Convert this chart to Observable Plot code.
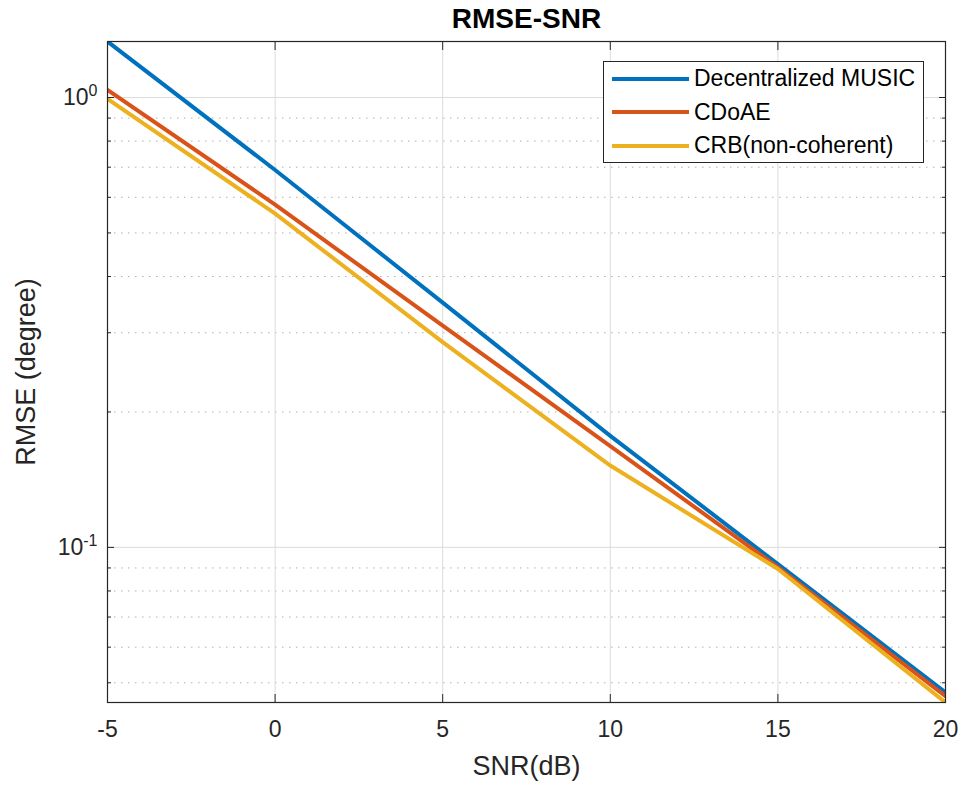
<!DOCTYPE html>
<html><head><meta charset="utf-8">
<script src="https://cdn.jsdelivr.net/npm/d3@7"></script>
<script src="https://cdn.jsdelivr.net/npm/@observablehq/plot@0.6"></script>
<style>
html,body{margin:0;padding:0;background:#fff;}
body{font-family:"Liberation Sans",Arial,Helvetica,sans-serif;}
#wrap{position:relative;width:962px;height:787px;overflow:hidden;}
#legend{position:absolute;left:603px;top:61px;width:321px;height:102px;border:1px solid #262626;background:#fff;box-sizing:border-box;padding-top:0px;}
.row{display:flex;align-items:center;height:33.6px;}
.sw{width:77px;height:4px;margin-left:8px;margin-right:5px;}
.lab{font-size:23px;color:#000;line-height:1;white-space:nowrap;}
</style></head>
<body><div id="wrap"><div id="legend"></div></div>
<script>
const snr = [-5, 0, 5, 10, 15, 20];
const decentralizedMUSIC = [1.332, 0.690, 0.350, 0.177, 0.0918, 0.0476];
const cdoae = [1.040, 0.578, 0.311, 0.168, 0.0903, 0.0467];
const crb = [0.993, 0.552, 0.286, 0.152, 0.0895, 0.0452];
const seriesNames = ["Decentralized MUSIC", "CDoAE", "CRB(non-coherent)"];
const seriesColors = ["#0072BD", "#D95319", "#EDB120"];
const xTicks = [-5, 0, 5, 10, 15, 20];
const xTickLabels = ["-5", "0", "5", "10", "15", "20"];
const yMajor = [0.1, 1];
const yTickLabels = ["10^-1", "10^0"];
const yMinor = [0.05, 0.06, 0.07, 0.08, 0.09, 0.2, 0.3, 0.4, 0.5, 0.6, 0.7, 0.8, 0.9];
const titleText = "RMSE-SNR";
const xLabel = "SNR(dB)";
const yLabel = "RMSE (degree)";

const seriesValues = [decentralizedMUSIC, cdoae, crb];
const data = [];
seriesNames.forEach((name, i) => snr.forEach((s, j) => data.push({series: name, snr: s, rmse: seriesValues[i][j]})));

const chart = Plot.plot({
  width: 962, height: 787,
  marginTop: 41, marginBottom: 85, marginLeft: 107, marginRight: 17,
  style: {fontFamily: '"Liberation Sans", Arial, Helvetica, sans-serif', fontSize: "23px", color: "#262626", background: "#fff", overflow: "visible"},
  x: {domain: d3.extent(snr), label: null},
  y: {type: "log", domain: d3.extent(data, d => d.rmse), label: null},
  color: {domain: seriesNames, range: seriesColors},
  marks: [
    Plot.ruleY(yMinor, {stroke: "#b0b0b0", strokeDasharray: "1.5,5.5", strokeWidth: 1}),
    Plot.ruleX(xTicks, {stroke: "#dcdcdc", strokeWidth: 1}),
    Plot.ruleY(yMajor, {stroke: "#dcdcdc", strokeWidth: 1}),
    Plot.line(data, {x: "snr", y: "rmse", z: "series", stroke: "series", strokeWidth: 4, clip: true}),
    Plot.frame({stroke: "#262626", strokeWidth: 1.2}),
    Plot.axisX({anchor: "bottom", ticks: xTicks, tickSize: -8, tickPadding: 26, tickFormat: d => xTickLabels[xTicks.indexOf(d)], fill: "#262626"}),
    Plot.axisX({anchor: "top", ticks: xTicks, tickSize: -8, tickFormat: () => ""}),
    Plot.axisY({anchor: "left", ticks: yMajor, tickSize: -7, tickPadding: 17, tickFormat: d => yTickLabels[yMajor.indexOf(d)], fill: "#262626"}),
    Plot.axisY({anchor: "right", ticks: yMajor, tickSize: -7, tickFormat: () => ""}),
    Plot.axisY({anchor: "left", ticks: yMinor, tickSize: -4, tickFormat: () => ""}),
    Plot.axisY({anchor: "right", ticks: yMinor, tickSize: -4, tickFormat: () => ""}),
    Plot.text([titleText], {frameAnchor: "top", lineAnchor: "bottom", textAnchor: "middle", dy: -14, fontWeight: "bold", fontSize: 28, fill: "#000"}),
    Plot.text([xLabel], {frameAnchor: "bottom", lineAnchor: "bottom", textAnchor: "middle", dy: 72, fontSize: 27, fill: "#262626"}),
    Plot.text([yLabel], {frameAnchor: "left", lineAnchor: "bottom", textAnchor: "middle", rotate: -90, dx: -73, fontSize: 27, fill: "#262626"})
  ]
});

// render exponents as superscripts
chart.querySelectorAll('g[aria-label="y-axis tick label"] text').forEach(t => {
  const s = t.textContent;
  const k = s.indexOf("^");
  if (k < 0) return;
  t.textContent = "";
  const ns = "http://www.w3.org/2000/svg";
  const base = document.createElementNS(ns, "tspan");
  base.textContent = s.slice(0, k);
  const sup = document.createElementNS(ns, "tspan");
  sup.textContent = s.slice(k + 1);
  sup.setAttribute("font-size", "16");
  sup.setAttribute("dy", "-9");
  t.appendChild(base);
  t.appendChild(sup);
});

const wrap = document.getElementById("wrap");
wrap.insertBefore(chart, wrap.firstChild);

const legend = document.getElementById("legend");
seriesNames.forEach((name, i) => {
  const row = document.createElement("div");
  row.className = "row";
  const sw = document.createElement("div");
  sw.className = "sw";
  sw.style.background = seriesColors[i];
  const lab = document.createElement("span");
  lab.className = "lab";
  lab.textContent = name;
  row.appendChild(sw);
  row.appendChild(lab);
  legend.appendChild(row);
});
</script>
</body></html>
